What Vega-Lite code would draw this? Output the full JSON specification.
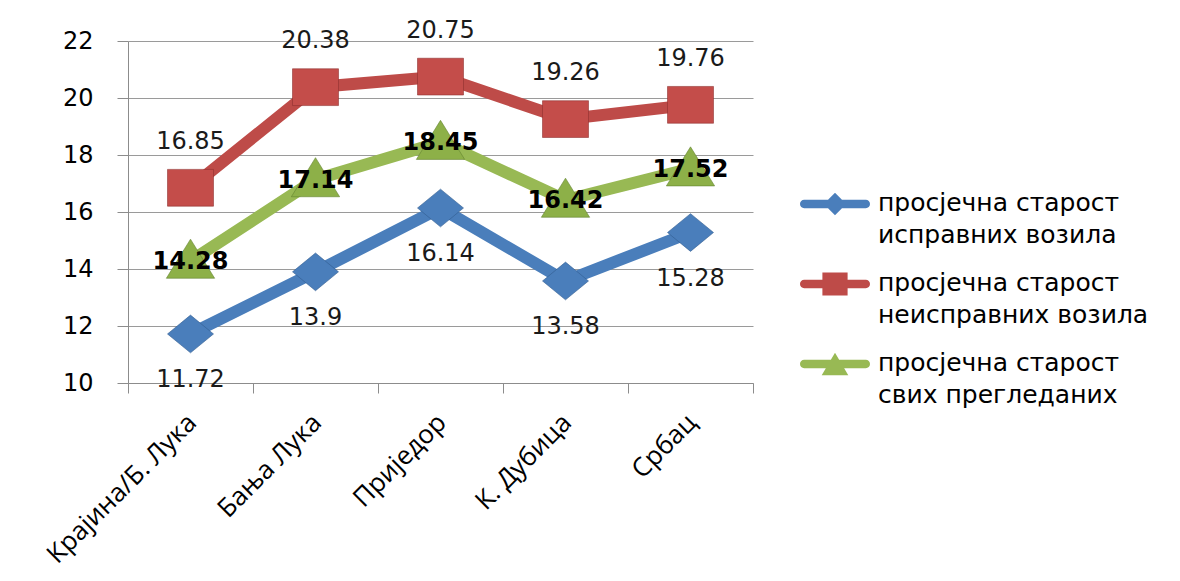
{
  "$schema": "https://vega.github.io/schema/vega-lite/v6.json",
  "width": 625,
  "height": 342,
  "autosize": {"type": "none"},
  "padding": {"left": 128, "top": 41, "right": 427, "bottom": 198},
  "background": "white",
  "config": {
    "view": {"stroke": null},
    "font": "DejaVu Sans",
    "style": {"guide-label": {"lineHeight": 32}}
  },
  "data": {
    "values": [
      {"grad": "Крајина/Б. Лука", "serija": "просјечна старост исправних возила", "vrijednost": 11.72},
      {"grad": "Бања Лука", "serija": "просјечна старост исправних возила", "vrijednost": 13.9},
      {"grad": "Приједор", "serija": "просјечна старост исправних возила", "vrijednost": 16.14},
      {"grad": "К. Дубица", "serija": "просјечна старост исправних возила", "vrijednost": 13.58},
      {"grad": "Србац", "serija": "просјечна старост исправних возила", "vrijednost": 15.28},
      {"grad": "Крајина/Б. Лука", "serija": "просјечна старост неисправних возила", "vrijednost": 16.85},
      {"grad": "Бања Лука", "serija": "просјечна старост неисправних возила", "vrijednost": 20.38},
      {"grad": "Приједор", "serija": "просјечна старост неисправних возила", "vrijednost": 20.75},
      {"grad": "К. Дубица", "serija": "просјечна старост неисправних возила", "vrijednost": 19.26},
      {"grad": "Србац", "serija": "просјечна старост неисправних возила", "vrijednost": 19.76},
      {"grad": "Крајина/Б. Лука", "serija": "просјечна старост свих прегледаних", "vrijednost": 14.28},
      {"grad": "Бања Лука", "serija": "просјечна старост свих прегледаних", "vrijednost": 17.14},
      {"grad": "Приједор", "serija": "просјечна старост свих прегледаних", "vrijednost": 18.45},
      {"grad": "К. Дубица", "serija": "просјечна старост свих прегледаних", "vrijednost": 16.42},
      {"grad": "Србац", "serija": "просјечна старост свих прегледаних", "vrijednost": 17.52}
    ]
  },
  "encoding": {
    "x": {
      "field": "grad",
      "type": "nominal",
      "sort": ["Крајина/Б. Лука", "Бања Лука", "Приједор", "К. Дубица", "Србац"],
      "scale": {"type": "band", "paddingInner": 0, "paddingOuter": 0},
      "axis": {
        "title": null,
        "labelAngle": -45,
        "labelFont": "Open Sans",
        "labelFontSize": 26,
        "labelColor": "#000",
        "labelLimit": 400,
        "labelOffset": -8,
        "tickBand": "extent",
        "tickSize": 10,
        "tickColor": "#8c8c8c",
        "domainColor": "#8c8c8c",
        "grid": false,
        "labelPadding": 16
      }
    },
    "y": {
      "field": "vrijednost",
      "type": "quantitative",
      "scale": {"domain": [10, 22], "nice": false, "zero": false},
      "axis": {
        "title": null,
        "values": [10, 12, 14, 16, 18, 20, 22],
        "labelFontSize": 24,
        "labelColor": "#000",
        "tickSize": 11,
        "tickColor": "#8c8c8c",
        "domainColor": "#8c8c8c",
        "gridColor": "#9a9a9a",
        "labelPadding": 24
      }
    }
  },
  "layer": [
    {
      "mark": {"type": "line", "strokeWidth": 12},
      "encoding": {
        "stroke": {
          "field": "serija",
          "type": "nominal",
          "scale": {"range": ["#4A7EBB", "#BE4B48", "#98B954"]},
          "legend": null
        }
      }
    },
    {
      "transform": [{"filter": "datum.serija === 'просјечна старост исправних возила'"}],
      "mark": {"type": "point", "filled": true, "opacity": 1, "size": 2116, "shape": "M0,-0.82 L1,0 L0,0.82 L-1,0 Z", "fill": "#4A7EBB", "stroke": "#2f5a8c", "strokeWidth": 0.8, "strokeOpacity": 0.7}
    },
    {
      "transform": [{"filter": "datum.serija === 'просјечна старост неисправних возила'"}],
      "mark": {"type": "point", "filled": true, "opacity": 1, "size": 2116, "shape": "M-1,-0.8 L1,-0.8 L1,0.8 L-1,0.8 Z", "fill": "#C44D4A", "stroke": "#8c2f2d", "strokeWidth": 0.8, "strokeOpacity": 0.7}
    },
    {
      "transform": [{"filter": "datum.serija === 'просјечна старост свих прегледаних'"}],
      "mark": {"type": "point", "filled": true, "opacity": 1, "size": 2116, "shape": "M0,-0.95 L1.05,0.75 L-1.05,0.75 Z", "fill": "#8DB048", "stroke": "#5f7f2c", "strokeWidth": 0.8, "strokeOpacity": 0.7}
    },
    {
      "mark": {"type": "point", "filled": true, "opacity": 0, "size": 4900},
      "encoding": {
        "color": {
          "field": "serija",
          "type": "nominal",
          "scale": {
            "domain": ["просјечна старост исправних возила", "просјечна старост неисправних возила", "просјечна старост свих прегледаних"],
            "range": ["#4A7EBB", "#BE4B48", "#98B954"]
          },
          "legend": {
            "title": null,
            "orient": "none",
            "legendX": 672,
            "legendY": 135,
            "symbolSize": 4900,
            "symbolOpacity": 1,
            "symbolStrokeWidth": 0,
            "labelFont": "DejaVu Sans",
            "labelFontSize": 25,
            "labelColor": "#000",
            "labelLimit": 400,
            "labelOffset": 8,
            "labelBaseline": "alphabetic",
            "rowPadding": 8,
            "labelExpr": "[slice(datum.label, 0, 17), slice(datum.label, 18)]"
          }
        },
        "shape": {
          "field": "serija",
          "type": "nominal",
          "scale": {
            "domain": ["просјечна старост исправних возила", "просјечна старост неисправних возила", "просјечна старост свих прегледаних"],
            "range": [
              "M-0.88,-0.32 L0.88,-0.32 A0.12,0.12 0 0 1 0.88,-0.08 L-0.88,-0.08 A0.12,0.12 0 0 1 -0.88,-0.32 Z M0,-0.52 L0.32,-0.2 L0,0.12 L-0.32,-0.2 Z",
              "M-0.88,-0.32 L0.88,-0.32 A0.12,0.12 0 0 1 0.88,-0.08 L-0.88,-0.08 A0.12,0.12 0 0 1 -0.88,-0.32 Z M-0.36,-0.53 L0.36,-0.53 L0.36,0.13 L-0.36,0.13 Z",
              "M-0.88,-0.32 L0.88,-0.32 A0.12,0.12 0 0 1 0.88,-0.08 L-0.88,-0.08 A0.12,0.12 0 0 1 -0.88,-0.32 Z M0,-0.52 L0.38,0.12 L-0.38,0.12 Z"
            ]
          },
          "legend": {
            "title": null,
            "orient": "none",
            "legendX": 672,
            "legendY": 135,
            "symbolSize": 4900,
            "symbolOpacity": 1,
            "symbolStrokeWidth": 0,
            "labelFont": "DejaVu Sans",
            "labelFontSize": 25,
            "labelColor": "#000",
            "labelLimit": 400,
            "labelOffset": 8,
            "labelBaseline": "alphabetic",
            "rowPadding": 8,
            "labelExpr": "[slice(datum.label, 0, 17), slice(datum.label, 18)]"
          }
        }
      }
    },
    {
      "transform": [{"filter": "datum.serija === 'просјечна старост неисправних возила'"}],
      "mark": {"type": "text", "dy": -46, "fontSize": 24, "color": "#1a1a1a", "font": "DejaVu Sans"},
      "encoding": {"text": {"field": "vrijednost", "type": "nominal"}}
    },
    {
      "transform": [{"filter": "datum.serija === 'просјечна старост свих прегледаних'"}],
      "mark": {"type": "text", "dy": 1, "fontSize": 24, "fontWeight": "bold", "color": "#000", "font": "DejaVu Sans"},
      "encoding": {"text": {"field": "vrijednost", "type": "nominal"}}
    },
    {
      "transform": [{"filter": "datum.serija === 'просјечна старост исправних возила'"}],
      "mark": {"type": "text", "dy": 46, "fontSize": 24, "color": "#1a1a1a", "font": "DejaVu Sans"},
      "encoding": {"text": {"field": "vrijednost", "type": "nominal"}}
    }
  ]
}
